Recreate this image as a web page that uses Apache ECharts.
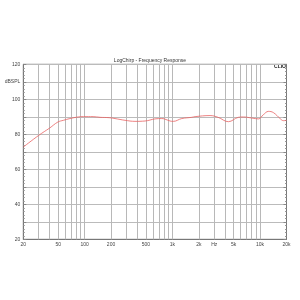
<!DOCTYPE html>
<html><head><meta charset="utf-8">
<script src="https://cdn.jsdelivr.net/npm/echarts@6/dist/echarts.min.js"></script>
<style>html,body{margin:0;padding:0;background:#fff}#c{width:300px;height:300px}</style>
</head><body><div id="c"></div>
<script>
const freqs = [20, 30, 40, 49.5, 57.3, 68, 84.5, 97, 125, 150, 191, 222, 289, 375, 488, 635, 757, 810, 941, 1026, 1280, 1664, 1815, 2690, 3320, 4350, 5660, 6450, 8040, 9570, 10900, 12440, 14180, 16900, 18430, 20000];
const spl = [72.7, 79.4, 83.6, 87, 88, 89, 89.9, 90.1, 90.1, 89.7, 89.5, 89, 88, 87.4, 87.6, 88.8, 89, 88.8, 87.6, 87.4, 89, 89.7, 90.1, 90.7, 89.7, 87.2, 89.7, 89.9, 89.3, 88.8, 91.2, 93.1, 92.4, 89, 87.8, 88];
const gridFreqs = [30, 40, 50, 60, 70, 80, 90, 100, 200, 300, 400, 500, 600, 700, 800, 900, 1000, 2000, 3000, 4000, 5000, 6000, 7000, 8000, 9000, 10000];
const xLabelValues = [20, 50, 100, 200, 500, 1000, 2000, 3000, 5000, 10000, 20000];
const xLabelTexts = ['20', '50', '100', '200', '500', '1k', '2k', 'Hz', '5k', '10k', '20k'];
const yLabelMap = {120: '120', 110: 'dBSPL', 100: '100', 80: '80', 60: '60', 40: '40', 20: '20'};

const chart = echarts.init(document.getElementById('c'), null, {renderer: 'canvas'});
const font = 'Liberation Sans, Arial, sans-serif';
chart.setOption({
  animation: false,
  title: {
    text: 'LogChirp - Frequency Response', left: 'center', top: 53,
    textStyle: {fontSize: 5, fontWeight: 'normal', color: '#333', fontFamily: font}
  },
  graphic: [{
    type: 'text', right: 14, top: 64.5,
    style: {text: 'CLIO', font: 'bold 5px ' + font, fill: '#222'}
  }],
  grid: {left: 23.3, right: 13.5, top: 64.3, bottom: 60.7, show: true, borderColor: '#777', borderWidth: 1},
  xAxis: {
    type: 'log', logBase: 10, min: 20, max: 20000,
    axisLine: {show: true, lineStyle: {color: '#777'}},
    axisTick: {show: false},
    splitLine: {show: false},
    minorTick: {show: false}, minorSplitLine: {show: false},
    axisLabel: {
      customValues: xLabelValues, fontSize: 5, color: '#444', fontFamily: font, margin: 3,
      formatter: v => { const i = xLabelValues.findIndex(f => Math.abs(f - v) / f < 1e-6); return i >= 0 ? xLabelTexts[i] : ''; }
    }
  },
  yAxis: [{
    type: 'value', min: 20, max: 120, interval: 10,
    axisLine: {show: true, lineStyle: {color: '#777'}},
    axisTick: {show: true, inside: true, length: 3, lineStyle: {color: '#888'}},
    minorTick: {show: true, splitNumber: 5, length: 1.5, lineStyle: {color: '#999'}},
    splitLine: {show: true, lineStyle: {color: '#bbb', width: 1}},
    axisLabel: {fontSize: 5, color: '#444', fontFamily: font, margin: 3,
      formatter: v => yLabelMap[v] || ''}
  }, {
    type: 'value', min: 20, max: 120, interval: 10, position: 'right',
    axisLine: {show: true, lineStyle: {color: '#777'}},
    axisTick: {show: true, inside: true, length: 3, lineStyle: {color: '#888'}},
    minorTick: {show: true, splitNumber: 5, length: 1.5, lineStyle: {color: '#999'}},
    splitLine: {show: false},
    axisLabel: {show: false}
  }],
  series: [{
    type: 'line', data: freqs.map((f, i) => [f, spl[i]]),
    smooth: 0.4, showSymbol: false, symbol: 'none',
    lineStyle: {color: '#e86262', width: 0.8},
    z: 5,
    markLine: {
      silent: true, symbol: 'none', animation: false,
      label: {show: false},
      lineStyle: {color: '#b8b8b8', width: 1, type: 'solid'},
      data: gridFreqs.map(f => ({xAxis: f}))
    }
  }]
});
</script></body></html>
